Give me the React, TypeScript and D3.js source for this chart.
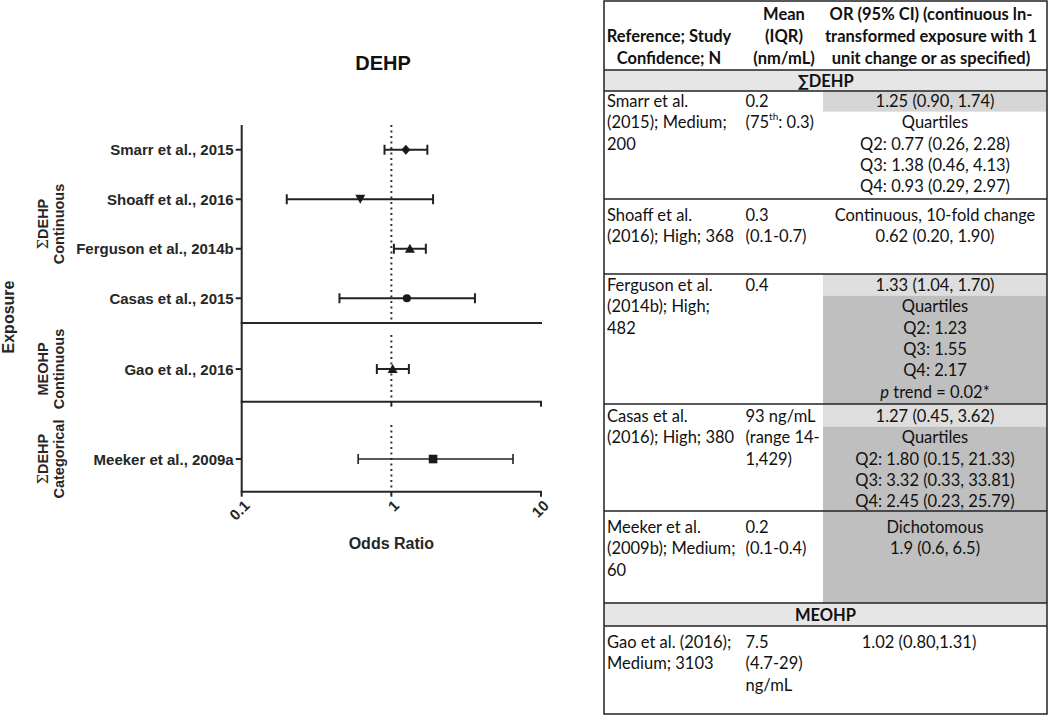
import React from "react";
import * as d3 from "d3";

// ---------- Forest plot data ----------
const studies = [
  "Smarr et al., 2015",
  "Shoaff et al., 2016",
  "Ferguson et al., 2014b",
  "Casas et al., 2015",
  "Gao et al., 2016",
  "Meeker et al., 2009a",
];
const oddsRatio = [1.25, 0.62, 1.33, 1.27, 1.02, 1.9];
const ciLower = [0.9, 0.2, 1.04, 0.45, 0.8, 0.6];
const ciUpper = [1.74, 1.9, 1.7, 3.62, 1.31, 6.5];
const markerShapes = ["diamond", "triangleDown", "triangle", "circle", "triangle", "square"];
const studyGroup = [0, 0, 0, 0, 1, 2];
const groupLine1 = ["ΣDEHP", "MEOHP", "ΣDEHP"];
const groupLine2 = ["Continuous", "Continuous", "Categorical"];
const xTicks = [0.1, 1, 10];
const xTickLabels = ["0.1", "1", "10"];

// ---------- Table data ----------
const tableHeaders = [
  ["Reference; Study", "Confidence; N"],
  ["Mean", "(IQR)", "(nm/mL)"],
  ["OR (95% CI) (continuous ln-", "transformed exposure with 1", "unit change or as specified)"],
];
const tableSections = ["∑DEHP", "MEOHP"];
const tableRefs = [
  ["Smarr et al.", "(2015); Medium;", "200"],
  ["Shoaff et al.", "(2016); High; 368"],
  ["Ferguson et al.", "(2014b); High;", "482"],
  ["Casas et al.", "(2016); High; 380"],
  ["Meeker et al.", "(2009b); Medium;", "60"],
  ["Gao et al. (2016);", "Medium; 3103"],
];
const tableMeans = [
  ["0.2", "(75th: 0.3)"],
  ["0.3", "(0.1-0.7)"],
  ["0.4"],
  ["93 ng/mL", "(range 14-", "1,429)"],
  ["0.2", "(0.1-0.4)"],
  ["7.5", "(4.7-29)", "ng/mL"],
];
const tableORs = [
  ["1.25 (0.90, 1.74)", "Quartiles", "Q2: 0.77 (0.26, 2.28)", "Q3: 1.38 (0.46, 4.13)", "Q4: 0.93 (0.29, 2.97)"],
  ["Continuous, 10-fold change", "0.62 (0.20, 1.90)"],
  ["1.33 (1.04, 1.70)", "Quartiles", "Q2: 1.23", "Q3: 1.55", "Q4: 2.17", "p trend = 0.02*"],
  ["1.27 (0.45, 3.62)", "Quartiles", "Q2: 1.80 (0.15, 21.33)", "Q3: 3.32 (0.33, 33.81)", "Q4: 2.45 (0.23, 25.79)"],
  ["Dichotomous", "1.9 (0.6, 6.5)"],
  ["1.02 (0.80,1.31)"],
];

// ---------- Layout ----------
const W = 1050;
const H = 717;
const PLOT_L = 241.7;
const PLOT_R = 541;
const panels = [
  { top: 125, bottom: 323, align: 0.5, dotTop: 125 },
  { top: 323, bottom: 401.7, align: 0.585, dotTop: 335 },
  { top: 401.7, bottom: 491.7, align: 0.637, dotTop: 425 },
];
const INK = "#262626";
const PLOT_FONT = "'Liberation Sans', Arial, sans-serif";
const TABLE_FONT = "Lato, 'Open Sans', sans-serif";

// table layout
const T_L = 604;
const T_R = 1047;
const T_TOP = 1;
const T_BOT = 714;
const COL3_L = 823;
const colText = [607, 745.5, 935];
const headerCenters = [669, 784, 931];
const headerLineY = [14, 36, 58];
const sectionBounds = [
  [70, 91],
  [603, 626],
];
const rowBounds = [
  [91, 199],
  [199, 274],
  [274, 404],
  [404, 511],
  [511, 603],
  [626, 714],
];
const rowFirstLine = [101, 215, 285, 416, 527, 642];
const LINE_H = 21.3;
const col3Centers = [935, 935, 935, 935, 935, 919];
// shading: [rowIndex, fromLine (null = row top), toLine(null = row bottom), color]
const shades: [number, number, number | null, string][] = [
  [0, 0, 1, "#d6d6d6"],
  [2, 0, 1, "#dedede"],
  [2, 1, null, "#bfbfbf"],
  [3, 0, 1, "#dedede"],
  [3, 1, null, "#bfbfbf"],
  [4, 0, null, "#bfbfbf"],
];

function markerPath(shape: string): string {
  switch (shape) {
    case "diamond":
      return "M0,-5L4.5,0L0,5L-4.5,0Z";
    case "triangleDown":
      return "M-5,-4.5L5,-4.5L0,4.5Z";
    case "triangle":
      return "M0,-5L5,4L-5,4Z";
    case "square":
      return "M-4.3,-4.3H4.3V4.3H-4.3Z";
    default:
      return d3.symbol().type(d3.symbolCircle).size(52)() || "";
  }
}

function renderCellText(s: string) {
  if (s.includes("75th")) {
    const [a, b] = s.split("75th");
    return (
      <>
        {a}75<tspan baselineShift="super" fontSize="10">th</tspan>
        {b}
      </>
    );
  }
  if (s.startsWith("p trend")) {
    return (
      <>
        <tspan fontStyle="italic">p</tspan>
        {s.slice(1)}
      </>
    );
  }
  return s;
}

export default function App() {
  const x = d3.scaleLog().domain([0.1, 10]).range([PLOT_L, PLOT_R]);

  const yOf = (i: number) => {
    const g = studyGroup[i];
    const members = studies.filter((_, j) => studyGroup[j] === g);
    const p = panels[g];
    const sc = d3
      .scalePoint<string>()
      .domain(members)
      .range([p.top, p.bottom])
      .padding(0.5)
      .align(p.align);
    return sc(studies[i]) as number;
  };

  const lineY = (r: number, k: number) => rowFirstLine[r] + k * LINE_H;

  return (
    <svg
      width={W}
      height={H}
      style={{ position: "absolute", left: 0, top: 0, background: "#fff" }}
      xmlns="http://www.w3.org/2000/svg"
    >
      <rect x={0} y={0} width={W} height={H} fill="#fff" />

      {/* ===== Forest plot ===== */}
      <g fontFamily={PLOT_FONT} fill={INK}>
        <text x={383} y={70} textAnchor="middle" fontSize={20} fontWeight="bold" fill="#111">
          DEHP
        </text>

        {/* reference line at OR = 1 */}
        {panels.map((p, gi) => (
          <line
            key={"ref" + gi}
            x1={x(1)}
            x2={x(1)}
            y1={p.dotTop}
            y2={p.bottom - 2}
            stroke="#333"
            strokeWidth={2}
            strokeDasharray="2,3.5"
          />
        ))}

        {/* left axis */}
        <line x1={PLOT_L} x2={PLOT_L} y1={panels[0].top} y2={panels[2].bottom} stroke={INK} strokeWidth={2} />
        {/* panel separators / x axes */}
        {panels.map((p, gi) => (
          <line
            key={"sep" + gi}
            x1={PLOT_L - 1}
            x2={PLOT_R + 1}
            y1={p.bottom}
            y2={p.bottom}
            stroke={INK}
            strokeWidth={2}
          />
        ))}
        {/* ticks on middle and bottom axes */}
        {[1, 2].map((gi) =>
          xTicks.map((t, ti) =>
            gi === 1 && ti === 0 ? null : (
              <line
                key={"tk" + gi + ti}
                x1={x(t)}
                x2={x(t)}
                y1={panels[gi].bottom}
                y2={panels[gi].bottom + 5}
                stroke={INK}
                strokeWidth={2}
              />
            )
          )
        )}
        {xTicks.map((t, ti) => (
          <text
            key={"tl" + ti}
            transform={`translate(${x(t) + 5},${panels[2].bottom + 11}) rotate(-45)`}
            textAnchor="end"
            dominantBaseline="central"
            fontSize={15}
            fontWeight="bold"
          >
            {xTickLabels[ti]}
          </text>
        ))}
        <text x={x(1)} y={549} textAnchor="middle" fontSize={16} fontWeight="bold">
          Odds Ratio
        </text>

        {/* row ticks & labels */}
        {studies.map((s, i) => {
          const y = yOf(i);
          return (
            <g key={"row" + i}>
              <line x1={PLOT_L - 6} x2={PLOT_L} y1={y} y2={y} stroke={INK} strokeWidth={2} />
              <text x={PLOT_L - 8} y={y} textAnchor="end" dominantBaseline="central" fontSize={15} fontWeight="bold">
                {s}
              </text>
            </g>
          );
        })}

        {/* error bars & markers */}
        {studies.map((s, i) => {
          const y = yOf(i);
          const sw = i === 5 ? 1.6 : 2;
          return (
            <g key={"eb" + i} stroke="#222" strokeWidth={sw}>
              <line x1={x(ciLower[i])} x2={x(ciUpper[i])} y1={y} y2={y} />
              <line x1={x(ciLower[i])} x2={x(ciLower[i])} y1={y - 5} y2={y + 5} />
              <line x1={x(ciUpper[i])} x2={x(ciUpper[i])} y1={y - 5} y2={y + 5} />
              <path d={markerPath(markerShapes[i])} transform={`translate(${x(oddsRatio[i])},${y})`} fill="#1a1a1a" stroke="none" />
            </g>
          );
        })}

        {/* group labels */}
        {panels.map((p, gi) => {
          const ys = studies.map((_, i) => i).filter((i) => studyGroup[i] === gi).map(yOf);
          const cy = gi === 0 ? (p.top + p.bottom) / 2 : (ys[0] as number);
          return (
            <g key={"grp" + gi} fontSize={14.5} fontWeight="bold">
              <text transform={`translate(48,${cy}) rotate(-90)`} textAnchor="middle">
                {groupLine1[gi].startsWith("Σ") ? (
                  <>
                    <tspan fontFamily="'DejaVu Serif', serif" fontWeight="normal">Σ</tspan>
                    {groupLine1[gi].slice(1)}
                  </>
                ) : (
                  groupLine1[gi]
                )}
              </text>
              <text transform={`translate(64,${cy}) rotate(-90)`} textAnchor="middle">
                {groupLine2[gi]}
              </text>
            </g>
          );
        })}
        <text transform={`translate(14,317) rotate(-90)`} textAnchor="middle" fontSize={16} fontWeight="bold">
          Exposure
        </text>
      </g>

      {/* ===== Table ===== */}
      <g fontFamily={TABLE_FONT} fill="#111" fontSize={16.5}>
        {/* section shading */}
        {sectionBounds.map((b, i) => (
          <rect key={"secbg" + i} x={T_L} y={b[0]} width={T_R - T_L} height={b[1] - b[0]} fill="#e6e6e6" />
        ))}
        {shades.map(([r, from, to, c], i) => {
          const top = from === 0 ? rowBounds[r][0] : lineY(r, from) - LINE_H / 2;
          const bot = to === null ? rowBounds[r][1] : lineY(r, to) - LINE_H / 2;
          return <rect key={"sh" + i} x={COL3_L} y={top} width={T_R - COL3_L} height={bot - top} fill={c} />;
        })}

        {/* header */}
        {tableHeaders.map((lines, ci) =>
          lines.map((l, li) => {
            const offset = 3 - lines.length;
            return (
              <text
                key={"h" + ci + li}
                x={headerCenters[ci]}
                y={headerLineY[li + offset]}
                textAnchor="middle"
                dominantBaseline="central"
                fontWeight="bold"
              >
                {l}
              </text>
            );
          })
        )}

        {/* sections */}
        {tableSections.map((s, i) => (
          <text
            key={"sec" + i}
            x={(T_L + T_R) / 2}
            y={(sectionBounds[i][0] + sectionBounds[i][1]) / 2}
            textAnchor="middle"
            dominantBaseline="central"
            fontWeight="bold"
          >
            {s}
          </text>
        ))}

        {/* rows */}
        {rowBounds.map((b, r) => (
          <g key={"r" + r}>
            {tableRefs[r].map((l, k) => (
              <text key={"a" + k} x={colText[0]} y={lineY(r, k)} dominantBaseline="central">
                {l}
              </text>
            ))}
            {tableMeans[r].map((l, k) => (
              <text key={"b" + k} x={colText[1]} y={lineY(r, k)} dominantBaseline="central">
                {renderCellText(l)}
              </text>
            ))}
            {tableORs[r].map((l, k) => (
              <text key={"c" + k} x={col3Centers[r]} y={lineY(r, k)} textAnchor="middle" dominantBaseline="central">
                {renderCellText(l)}
              </text>
            ))}
          </g>
        ))}

        {/* grid lines */}
        {[70, 91, 199, 274, 404, 511, 603, 626].map((y, i) => (
          <line key={"gl" + i} x1={T_L} x2={T_R} y1={y} y2={y} stroke="#222" strokeWidth={1.5} />
        ))}
        <rect x={T_L} y={T_TOP} width={T_R - T_L} height={T_BOT - T_TOP} fill="none" stroke="#222" strokeWidth={1.5} />
      </g>
    </svg>
  );
}
